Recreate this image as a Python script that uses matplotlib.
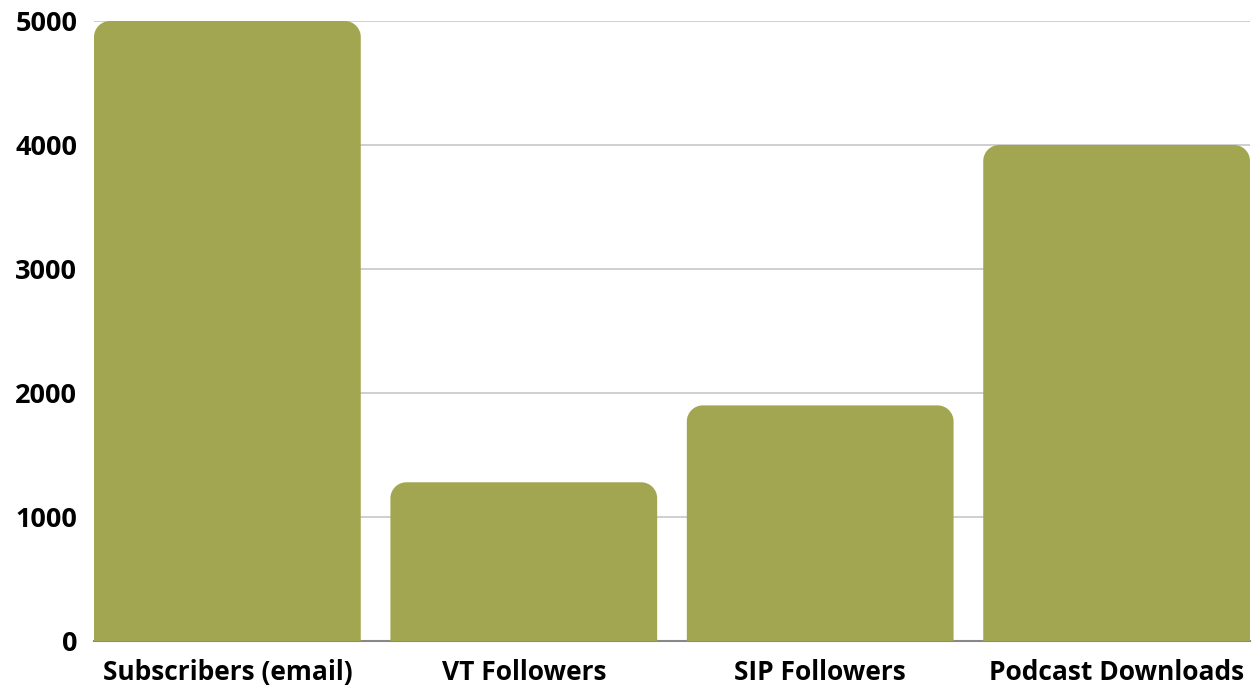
#!/usr/bin/env python3

import numpy as np
from matplotlib import pyplot as plt
from matplotlib.path import Path
from matplotlib.patches import PathPatch

categories = ['Subscribers (email)', 'VT Followers', 'SIP Followers', 'Podcast Downloads']
values = [5000, 1280, 1900, 4000]
yticks = [0, 1000, 2000, 3000, 4000, 5000]

BAR_COLOR = '#a3a651'
BAR_W = 0.9
RADIUS_PX = 16
K = 0.5523  # bezier circle constant

plt.rcParams['font.family'] = ['Open Sans', 'DejaVu Sans']
plt.rcParams['font.weight'] = 'bold'

fig = plt.figure(figsize=(12.55, 6.87), dpi=100)
ax = fig.add_axes([94 / 1255, 46 / 687, 1156 / 1255, 620 / 687])
ax.set_xlim(-0.45, len(categories) - 0.55)
ax.set_ylim(0, 5000)

# size of one data unit in pixels, so the corners stay circular
px_x = 1156 / (len(categories) - 0.1)
px_y = 620 / 5000
rx = RADIUS_PX / px_x
ry = RADIUS_PX / px_y


def top_rounded_bar(x0, w, h):
    x1 = x0 + w
    verts = [(x0, 0), (x0, h - ry),
             (x0, h - ry + K * ry), (x0 + rx - K * rx, h), (x0 + rx, h),
             (x1 - rx, h),
             (x1 - rx + K * rx, h), (x1, h - ry + K * ry), (x1, h - ry),
             (x1, 0), (x0, 0)]
    codes = [Path.MOVETO, Path.LINETO,
             Path.CURVE4, Path.CURVE4, Path.CURVE4,
             Path.LINETO,
             Path.CURVE4, Path.CURVE4, Path.CURVE4,
             Path.LINETO, Path.CLOSEPOLY]
    return Path(verts, codes)


x = np.arange(len(categories))
for xi, v in zip(x, values):
    ax.add_patch(PathPatch(top_rounded_bar(xi - BAR_W / 2, BAR_W, v),
                           fc=BAR_COLOR, ec='none', zorder=3))

ax.set_yticks(yticks)
ax.set_yticklabels([str(t) for t in yticks], fontsize=19.5, fontweight='bold')
ax.set_xticks(x)
ax.set_xticklabels(categories, fontsize=19, fontweight='bold')
ax.tick_params(axis='y', length=0, pad=12)
ax.tick_params(axis='x', length=0, pad=13)

ax.grid(axis='y', color='#cccccc', linewidth=1.3, zorder=0)
ax.axhline(0, color='#888888', linewidth=1.5, zorder=2, clip_on=False)
for s in ax.spines.values():
    s.set_visible(False)

fig.savefig('out.png', dpi=100)
